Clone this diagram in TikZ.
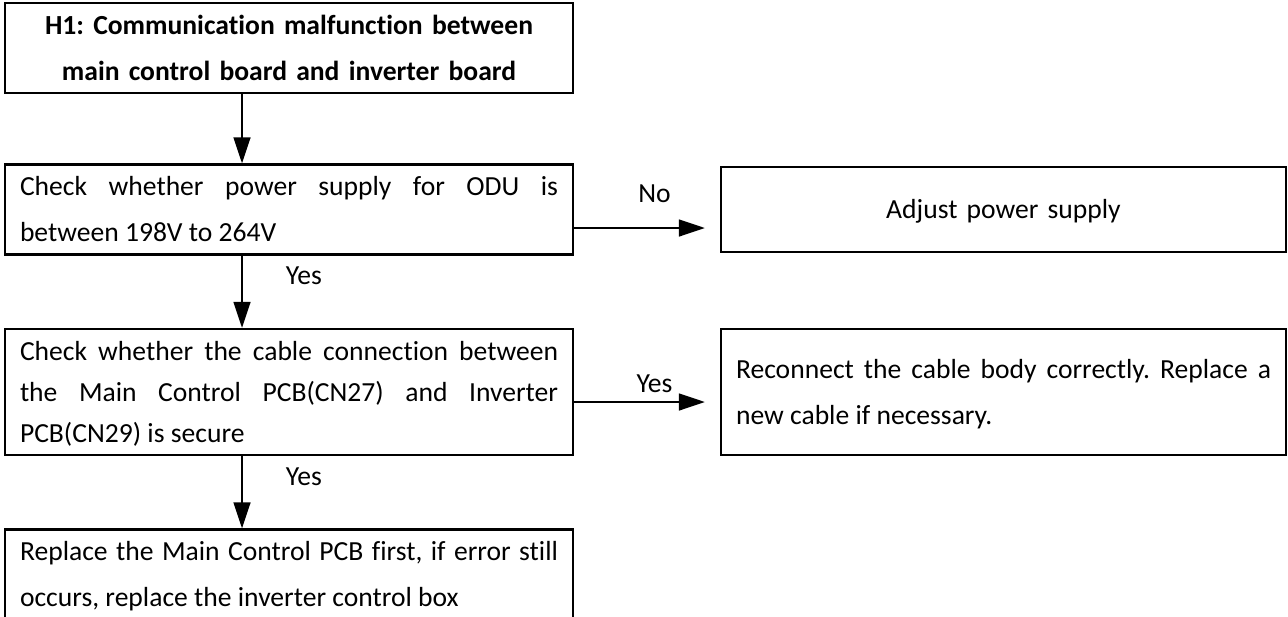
\documentclass[tikz,border=0pt]{standalone}
\usepackage{fontspec}
\setmainfont[Ligatures={NoCommon}]{Carlito}
\usepackage{tikz}
\usetikzlibrary{arrows.meta}
\frenchspacing

\newcommand{\bxstrut}{\rule[-6.5pt]{0pt}{22pt}}

\begin{document}
\begin{tikzpicture}[
  x=0.5pt, y=-0.5pt,
  font=\fontsize{13.8}{20.5}\selectfont,
  >={Triangle[length=13pt,width=8.5pt]},
  boxl/.style={draw, line width=1.2pt, align=justify, text width=269pt,
               inner xsep=7.5pt, inner ysep=0pt, minimum height=42.5pt},
  boxr/.style={boxl, text width=267.5pt},
  arr/.style={->, line width=0.85pt},
  lbl/.style={inner sep=0pt, anchor=base},
]
\useasboundingbox (0,0) rectangle (1288,616);

\node[boxl, align=center, font=\fontsize{13.8}{20.5}\selectfont\bfseries] (h1) at (289,48)
  {\bxstrut H1: Communication malfunction between\\ main control board and inverter board\bxstrut};
\node[boxl] (pwr) at (289,209.5)
  {\bxstrut Check whether power supply for ODU is\linebreak between 198V to 264V\bxstrut};
\node[boxr, align=center] (adj) at (1003.5,209.5) {\bxstrut Adjust power supply\bxstrut};
\node[boxl, minimum height=63pt] (cbl) at (289,392)
  {\bxstrut Check whether the cable connection between\linebreak the Main Control PCB(CN27) and Inverter\linebreak PCB(CN29) is secure\bxstrut};
\node[boxr, minimum height=63pt] (rec) at (1003.5,392)
  {\bxstrut Reconnect the cable body correctly. Replace a\linebreak new cable if necessary.\bxstrut};
\node[boxl] (rpl) at (289,574.5)
  {\bxstrut Replace the Main Control PCB first, if error still\linebreak occurs, replace the inverter control box\bxstrut};

\draw[arr] ([xshift=-23.5pt]h1.south) -- ([xshift=-23.5pt]pwr.north);
\draw[arr] ([xshift=-23.5pt]pwr.south) -- node[lbl, anchor=base west, xshift=21.5pt, yshift=3.75pt]{Yes} ([xshift=-23.5pt]cbl.north);
\draw[arr] ([xshift=-23.5pt]cbl.south) -- node[lbl, anchor=base west, xshift=21.5pt, yshift=3.25pt]{Yes} ([xshift=-23.5pt]rpl.north);
\draw[arr, shorten >=7.5pt] ([yshift=-9.25pt]pwr.east) -- node[lbl, xshift=3.75pt, yshift=13pt]{No} ([yshift=-9.25pt]adj.west);
\draw[arr, shorten >=7.5pt] ([yshift=-5pt]cbl.east) -- node[lbl, xshift=3.75pt, yshift=5pt]{Yes} ([yshift=-5pt]rec.west);
\end{tikzpicture}
\end{document}
